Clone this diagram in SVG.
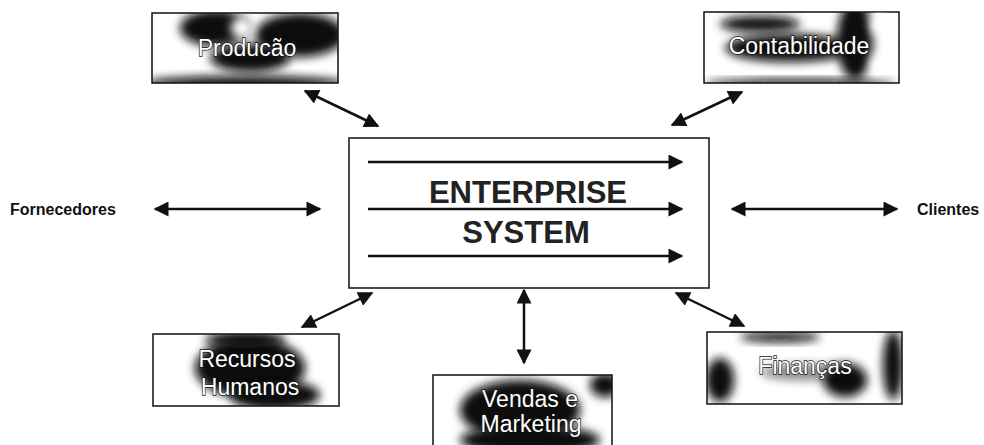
<svg xmlns="http://www.w3.org/2000/svg" width="984" height="445" viewBox="0 0 984 445">
<style>
.box{fill:#fff;stroke:#111;stroke-width:1.5}
.blob{fill:#0a0a0a;filter:url(#blur)}
.lbl{font-family:"Liberation Sans",Arial,sans-serif;font-size:23px;fill:#fff;stroke:#111;stroke-width:1.3;paint-order:stroke;text-anchor:middle}
.big{font-family:"Liberation Sans",Arial,sans-serif;font-size:31px;font-weight:bold;fill:#222;text-anchor:middle}
.side{font-family:"Liberation Sans",Arial,sans-serif;font-size:16px;font-weight:bold;fill:#111}
.con{stroke:#111;stroke-width:2.5;fill:none}
</style>
<defs>
<filter id="blur" x="-50%" y="-50%" width="200%" height="200%"><feGaussianBlur stdDeviation="5"/></filter>
<marker id="ah" viewBox="0 0 10 10" refX="9" refY="5" markerWidth="7" markerHeight="6" orient="auto-start-reverse" markerUnits="strokeWidth"><path d="M0,0 L10,5 L0,10 z" fill="#111"/></marker>
<clipPath id="c1"><rect x="152" y="13" width="186" height="70"/></clipPath>
<clipPath id="c2"><rect x="704" y="12" width="195" height="71"/></clipPath>
<clipPath id="c3"><rect x="153" y="334" width="186" height="72"/></clipPath>
<clipPath id="c4"><rect x="433" y="375" width="179" height="75"/></clipPath>
<clipPath id="c5"><rect x="707" y="332" width="195" height="72"/></clipPath>
</defs>

<g id="producao">
<rect class="box" x="152" y="13" width="186" height="70"/>
<g clip-path="url(#c1)">
<ellipse class="blob" cx="215" cy="28" rx="35" ry="18"/>
<ellipse class="blob" cx="300" cy="35" rx="45" ry="22"/>
<ellipse class="blob" cx="250" cy="58" rx="40" ry="14"/>
<ellipse class="blob" cx="245" cy="83" rx="100" ry="7"/>
<circle cx="242" cy="28" r="11" fill="#fff" filter="url(#blur)"/>
</g>
<text class="lbl" x="247" y="56">Producão</text>
</g>

<g id="contabilidade">
<rect class="box" x="704" y="12" width="195" height="71"/>
<g clip-path="url(#c2)">
<ellipse class="blob" cx="790" cy="48" rx="65" ry="14"/>
<ellipse class="blob" cx="855" cy="40" rx="18" ry="40"/>
<ellipse class="blob" cx="760" cy="24" rx="40" ry="8"/>
<ellipse class="blob" cx="800" cy="83" rx="95" ry="4"/>
<circle cx="880" cy="25" r="10" fill="#fff" filter="url(#blur)"/>
<circle cx="880" cy="65" r="10" fill="#fff" filter="url(#blur)"/>
</g>
<text class="lbl" x="799" y="54">Contabilidade</text>
</g>

<g id="enterprise">
<rect class="box" x="349" y="138" width="360" height="150" stroke-width="2"/>
<line class="con" x1="368" y1="162" x2="682" y2="162" marker-end="url(#ah)"/>
<line class="con" x1="368" y1="209" x2="682" y2="209" marker-end="url(#ah)"/>
<line class="con" x1="368" y1="256" x2="682" y2="256" marker-end="url(#ah)"/>
<text class="big" x="528" y="203">ENTERPRISE</text>
<text class="big" x="526" y="243">SYSTEM</text>
</g>

<g id="recursos">
<rect class="box" x="153" y="334" width="186" height="72"/>
<g clip-path="url(#c3)">
<ellipse class="blob" cx="250" cy="368" rx="55" ry="30"/>
<ellipse class="blob" cx="275" cy="395" rx="45" ry="15"/>
<ellipse class="blob" cx="245" cy="340" rx="40" ry="8"/>
</g>
<text class="lbl" x="247" y="367">Recursos</text>
<text class="lbl" x="250" y="395">Humanos</text>
</g>

<g id="vendas">
<rect class="box" x="433" y="375" width="179" height="75"/>
<g clip-path="url(#c4)">
<ellipse class="blob" cx="520" cy="410" rx="60" ry="30"/>
<ellipse class="blob" cx="530" cy="440" rx="70" ry="15"/>
<ellipse class="blob" cx="605" cy="385" rx="15" ry="12"/>
</g>
<text class="lbl" x="530" y="407">Vendas e</text>
<text class="lbl" x="531" y="432">Marketing</text>
</g>

<g id="financas">
<rect class="box" x="707" y="332" width="195" height="72"/>
<g clip-path="url(#c5)">
<ellipse class="blob" cx="720" cy="380" rx="14" ry="22"/>
<ellipse class="blob" cx="893" cy="365" rx="10" ry="35"/>
<ellipse class="blob" cx="845" cy="380" rx="22" ry="17"/>
<ellipse class="blob" cx="805" cy="372" rx="45" ry="8" opacity="0.5"/>
<ellipse class="blob" cx="780" cy="337" rx="40" ry="5"/>
</g>
<text class="lbl" x="805" y="374">Finanças</text>
</g>

<g id="fornecedores"><text class="side" x="10" y="215">Fornecedores</text></g>
<g id="clientes"><text class="side" x="917" y="215">Clientes</text></g>

<g id="connectors">
<line class="con" x1="155" y1="209" x2="320" y2="209" marker-start="url(#ah)" marker-end="url(#ah)"/>
<line class="con" x1="732" y1="209" x2="897" y2="209" marker-start="url(#ah)" marker-end="url(#ah)"/>
<line class="con" x1="305" y1="91" x2="378" y2="126" marker-start="url(#ah)" marker-end="url(#ah)"/>
<line class="con" x1="672" y1="125" x2="742" y2="92" marker-start="url(#ah)" marker-end="url(#ah)"/>
<line class="con" x1="302" y1="327" x2="372" y2="293" marker-start="url(#ah)" marker-end="url(#ah)"/>
<line class="con" x1="524" y1="290" x2="524" y2="363" marker-start="url(#ah)" marker-end="url(#ah)"/>
<line class="con" x1="676" y1="293" x2="744" y2="326" marker-start="url(#ah)" marker-end="url(#ah)"/>
</g>
</svg>
